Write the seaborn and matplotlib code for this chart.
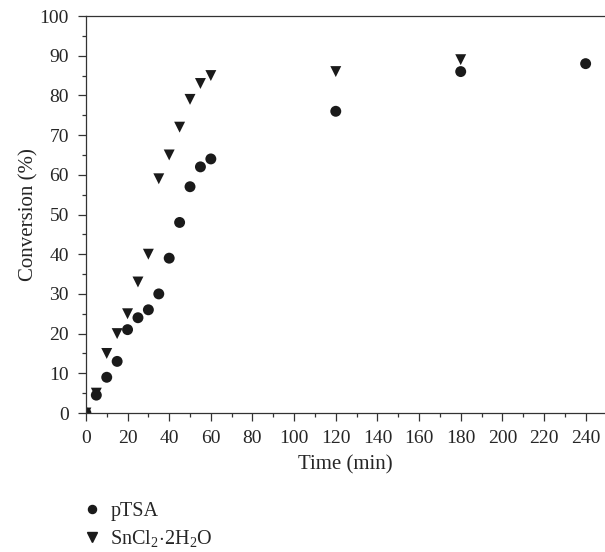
import numpy as np
import pandas as pd
import matplotlib
matplotlib.use("Agg")
import matplotlib.pyplot as plt
import seaborn as sns
from matplotlib.ticker import MultipleLocator

# Data
time_ptsa = [0, 5, 10, 15, 20, 25, 30, 35, 40, 45, 50, 55, 60, 120, 180, 240]
conv_ptsa = [0, 4.5, 9, 13, 21, 24, 26, 30, 39, 48, 57, 62, 64, 76, 86, 88]
time_sncl = [0, 5, 10, 15, 20, 25, 30, 35, 40, 45, 50, 55, 60, 120, 180]
conv_sncl = [0, 5, 15, 20, 25, 33, 40, 59, 65, 72, 79, 83, 85, 86, 89]

label_ptsa = "pTSA"
label_sncl = r"SnCl$_2\!\cdot\!$2H$_2$O"

df = pd.concat([
    pd.DataFrame({"time": time_ptsa, "conv": conv_ptsa, "catalyst": label_ptsa}),
    pd.DataFrame({"time": time_sncl, "conv": conv_sncl, "catalyst": label_sncl}),
])

sns.set_style("ticks")
plt.rcParams["font.family"] = ["Liberation Serif", "DejaVu Serif"]
plt.rcParams["mathtext.fontset"] = "custom"
plt.rcParams["mathtext.rm"] = "Liberation Serif"
plt.rcParams["mathtext.it"] = "Liberation Serif"

fig = plt.figure(figsize=(6.05, 5.52), dpi=100)
ax = fig.add_axes([0.142, 0.2518, 0.858, 0.7192])

sns.scatterplot(
    data=df, x="time", y="conv", style="catalyst",
    markers={label_ptsa: "o", label_sncl: "v"},
    color="#1a1a1a", s=62, edgecolor="none", ax=ax, legend=False,
)

ax.set_xlim(0, 249.3)
ax.set_ylim(0, 100)
ax.xaxis.set_major_locator(MultipleLocator(20))
ax.xaxis.set_minor_locator(MultipleLocator(10))
ax.yaxis.set_major_locator(MultipleLocator(10))
ax.yaxis.set_minor_locator(MultipleLocator(5))
ax.tick_params(which="major", length=5.8, width=0.9, labelsize=14, pad=6.5,
               direction="out", color="#333333")
ax.tick_params(which="minor", length=3, width=0.9, direction="out", color="#333333")
ax.spines["right"].set_visible(False)
for side in ["left", "bottom", "top"]:
    ax.spines[side].set_linewidth(0.9)
    ax.spines[side].set_color("#333333")

ax.set_xlabel("Time (min)", fontsize=15, labelpad=6)
ax.set_ylabel("Conversion (%)", fontsize=15, labelpad=1)

handles = [
    plt.Line2D([], [], marker="o", linestyle="none", color="#1a1a1a", markersize=5.8),
    plt.Line2D([], [], marker="v", linestyle="none", color="#1a1a1a", markersize=6.5),
]
fig.legend(
    handles, [label_ptsa, label_sncl], loc="upper left",
    bbox_to_anchor=(0.1256, 0.105), frameon=False, fontsize=14.5,
    handletextpad=0.5, labelspacing=0.35, handlelength=0.8, borderaxespad=0,
)

fig.savefig("out.png", dpi=100)
